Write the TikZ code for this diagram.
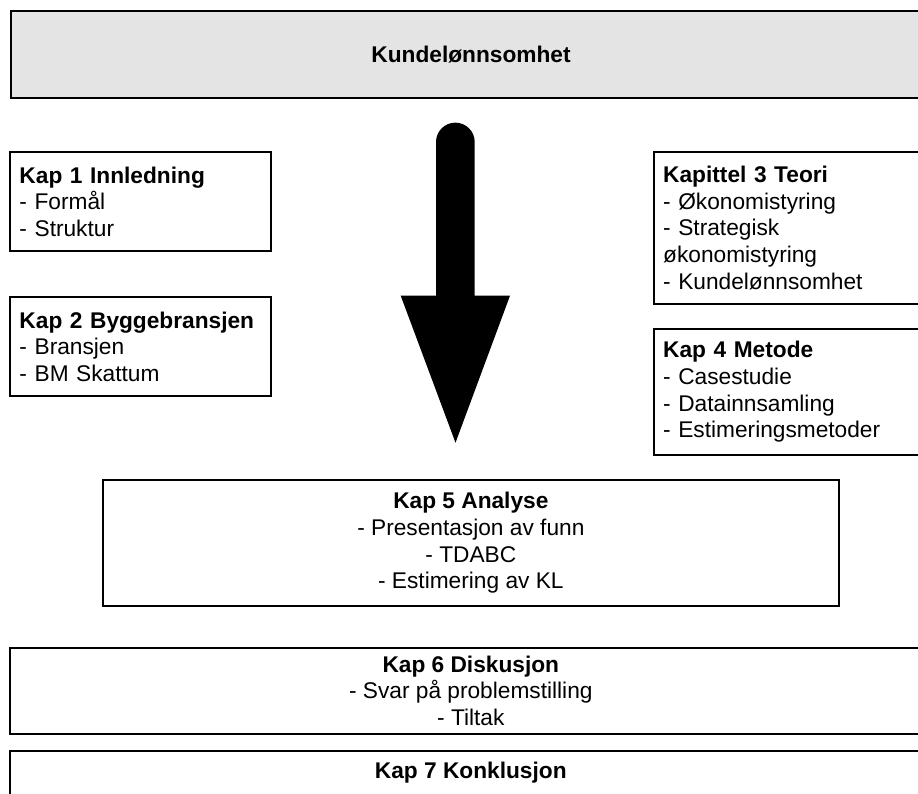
\documentclass[tikz,border=0pt]{standalone}
\usepackage{fontspec}
\setmainfont{Liberation Sans}
\definecolor{titlegrey}{HTML}{E4E4E4}
\begin{document}
\begin{tikzpicture}[x=1pt,y=-1pt,
  every node/.style={font=\fontsize{22.7}{26.6}\selectfont},
  box/.style={draw=black, line width=2pt, rectangle, inner xsep=9.5pt, inner ysep=0pt},
  sidebox/.style={box, anchor=north west, align=left, text width=#1},
  widebox/.style={box, anchor=north west, align=center},
]
\useasboundingbox (0,0) rectangle (918,794);
\clip (0,0) rectangle (918,794);

% heading band
\node[widebox, fill=titlegrey, minimum width=920pt, minimum height=87pt,
      font=\fontsize{22.7}{26.6}\selectfont\bfseries] (title) at (10,10) {Kundelønnsomhet};

% chapters on the left
\node[sidebox=242pt, minimum height=99pt] (kap1) at (9,151)
  {\textbf{Kap 1 Innledning}\\- Formål\\- Struktur};
\node[sidebox=242pt, minimum height=98pt] (kap2) at (9,296.5)
  {\textbf{Kap 2 Byggebransjen}\\- Bransjen\\- BM Skattum};

% chapters on the right
\node[sidebox=253pt, minimum height=152.3pt] (kap3) at (652.7,150.7)
  {\textbf{Kapittel 3 Teori}\\- Økonomistyring\\- Strategisk\\økonomistyring\\- Kundelønnsomhet};
\node[sidebox=253pt, minimum height=126pt] (kap4) at (652.7,328)
  {\textbf{Kap 4 Metode}\\- Casestudie\\- Datainnsamling\\- Estimeringsmetoder};

% the big downward arrow (y axis points down, so the cap arc runs 180 -> 360)
\fill[black] (436,142) arc[start angle=180, end angle=360, radius=19.35]
  -- (474.7,295.7) -- (510,295.7) -- (455.5,442.7) -- (400.7,295.7)
  -- (436,295.7) -- cycle;

% analysis, discussion, conclusion
\node[widebox, minimum width=736.3pt, minimum height=126pt] (kap5) at (101.7,479)
  {\textbf{Kap 5 Analyse}\\- Presentasjon av funn\\- TDABC\\- Estimering av KL};
\node[widebox, minimum width=921pt, minimum height=86pt] (kap6) at (9.3,646.7)
  {\textbf{Kap 6 Diskusjon}\\- Svar på problemstilling\\- Tiltak};
\node[box, anchor=north west, minimum width=921pt, inner ysep=10.5pt,
      text height=16.5pt, text depth=70pt] (kap7) at (9.3,750)
  {\textbf{Kap 7 Konklusjon}};
\end{tikzpicture}
\end{document}
